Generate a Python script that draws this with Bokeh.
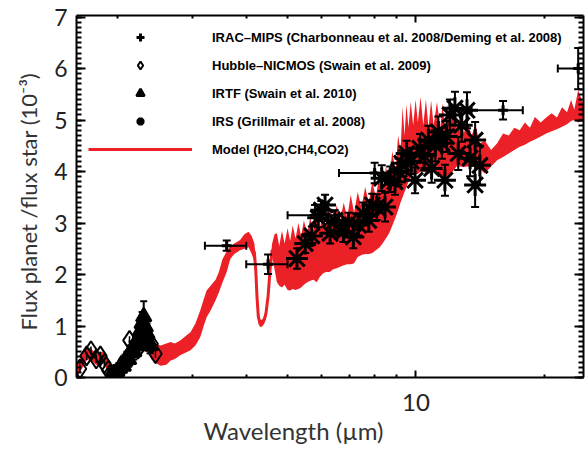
import numpy as np
from bokeh.plotting import figure
from bokeh.models import (Range1d, LogAxis, LinearAxis, FixedTicker, SingleIntervalTicker,
                          Whisker, TeeHead, ColumnDataSource, Legend, LegendItem,
                          CustomJSTickFormatter, Title)
from bokeh.embed import file_html
from bokeh.resources import INLINE

# ---------------- data ----------------
# IRAC / MIPS photometry
irac_wl = [3.6, 4.5, 5.8, 8.0, 16.0, 24.0]
irac_wl_lo = [3.2, 4.0, 5.0, 6.6, 13.5, 21.5]
irac_wl_hi = [4.0, 5.0, 6.6, 9.5, 17.8, 27.0]
irac_val = [2.56, 2.20, 3.15, 3.97, 5.19, 6.00]
irac_err = [0.10, 0.19, 0.20, 0.20, 0.18, 0.40]

# Hubble NICMOS
nic_wl = [1.63, 1.69, 1.73, 1.78, 1.82, 1.86, 1.90, 1.94, 2.13, 2.23, 2.35, 2.40, 2.45]
nic_val = [0.17, 0.42, 0.52, 0.36, 0.42, 0.27, 0.14, 0.05, 0.72, 0.55, 0.78, 0.65, 0.46]
nic_err = [0.08, 0.08, 0.08, 0.08, 0.08, 0.08, 0.08, 0.08, 0.08, 0.08, 0.08, 0.08, 0.08]

# IRTF
irtf_wl = [1.93, 1.96, 1.99, 2.02, 2.04, 2.06, 2.08, 2.10, 2.12, 2.14, 2.16,
           2.18, 2.20, 2.22, 2.24, 2.26, 2.28, 2.30, 2.32, 2.34, 2.36, 2.38]
irtf_val = [0.02, 0.08, 0.12, 0.18, 0.25, 0.22, 0.32, 0.38, 0.35, 0.48, 0.55,
            0.50, 0.62, 0.70, 0.78, 0.90, 1.05, 1.18, 0.98, 0.85, 0.70, 0.62]
irtf_err = [0.08, 0.08, 0.10, 0.10, 0.10, 0.12, 0.12, 0.12, 0.14, 0.14, 0.15,
            0.15, 0.16, 0.18, 0.18, 0.20, 0.22, 0.30, 0.22, 0.20, 0.18, 0.15]

# Spitzer IRS spectrum
irs_wl = [5.26, 5.50, 5.70, 5.90, 6.00, 6.12, 6.29, 6.45, 6.58, 6.76, 6.95,
          7.13, 7.33, 7.53, 7.75, 7.90, 8.09, 8.31, 8.46, 8.70, 8.93, 9.10,
          9.26, 9.51, 9.75, 9.95, 10.22, 10.45, 10.69, 10.88, 11.10, 11.28,
          11.50, 11.69, 11.80, 12.01, 12.34, 12.56, 12.80, 13.17, 13.39,
          13.76, 13.76, 14.12]
irs_val = [2.31, 2.60, 2.75, 3.10, 3.25, 3.35, 2.80, 3.05, 2.96, 2.83, 3.00,
           2.73, 2.96, 3.18, 3.05, 3.35, 3.31, 3.87, 3.31, 3.85, 3.80, 4.00,
           4.16, 4.35, 4.20, 3.83, 4.45, 4.30, 4.61, 4.06, 4.50, 4.77,
           4.55, 3.83, 4.68, 5.10, 5.23, 4.35, 4.90, 5.19, 4.26,
           4.61, 3.74, 4.12]
irs_err = [0.20, 0.18, 0.18, 0.18, 0.18, 0.20, 0.20, 0.20, 0.20, 0.20, 0.20,
           0.22, 0.20, 0.22, 0.22, 0.22, 0.25, 0.25, 0.28, 0.25, 0.25, 0.25,
           0.25, 0.25, 0.25, 0.25, 0.28, 0.28, 0.28, 0.28, 0.30, 0.30,
           0.30, 0.30, 0.30, 0.30, 0.32, 0.32, 0.32, 0.35, 0.35,
           0.35, 0.43, 0.38]

# Model (H2O, CH4, CO2): lower / upper envelope of the noisy spectrum
model_wl = [1.60, 1.63, 1.66, 1.69, 1.72, 1.75, 1.78, 1.81, 1.84, 1.88, 1.92,
            1.96, 2.00, 2.05, 2.10, 2.15, 2.20, 2.25, 2.30, 2.35, 2.40, 2.45,
            2.52, 2.60, 2.66, 2.72, 2.80, 2.88, 2.96, 3.04, 3.12, 3.18, 3.23,
            3.30, 3.39, 3.45, 3.52, 3.60, 3.67, 3.75, 3.87, 3.96, 4.05, 4.12,
            4.18, 4.21, 4.24, 4.27, 4.31, 4.36, 4.41, 4.45, 4.50, 4.55, 4.60,
            4.66, 4.72, 4.78, 4.85, 4.92, 5.00, 5.07, 5.14, 5.22, 5.30, 5.38,
            5.46, 5.56, 5.65, 5.75, 5.85, 5.95, 6.05, 6.15, 6.27, 6.40, 6.52,
            6.64, 6.77, 6.90, 7.03, 7.16, 7.30, 7.45, 7.60, 7.75, 7.90, 8.05,
            8.20, 8.35, 8.50, 8.65, 8.80, 8.95, 9.08, 9.20, 9.30, 9.40, 9.50,
            9.60, 9.72, 9.85, 9.98, 10.10, 10.25, 10.40, 10.55, 10.70, 10.85,
            11.00, 11.20, 11.40, 11.55, 11.70, 11.85, 12.00, 12.20, 12.45,
            12.70, 12.95, 13.20, 13.50, 13.80, 14.10, 14.50, 15.00, 15.50,
            16.00, 16.50, 17.00, 17.50, 18.00, 18.50, 19.00, 19.60, 20.20,
            20.80, 21.40, 22.00, 22.60, 23.10, 23.50, 24.00, 24.70]
model_lo = [0.02, 0.10, 0.22, 0.33, 0.36, 0.30, 0.24, 0.28, 0.30, 0.18, 0.04,
            -0.05, -0.05, 0.00, 0.10, 0.25, 0.40, 0.50, 0.55, 0.50, 0.35, 0.28,
            0.23, 0.25, 0.33, 0.36, 0.43, 0.48, 0.53, 0.62, 0.78, 1.00, 1.17,
            1.30, 1.50, 1.65, 1.85, 2.05, 2.30, 2.40, 2.47, 2.50, 2.53, 2.40,
            2.25, 1.90, 1.35, 1.05, 0.98, 0.99, 1.05, 1.15, 1.45, 1.95, 2.35,
            2.10, 1.85, 1.78, 1.75, 1.80, 1.70, 1.69, 1.72, 1.70, 1.72, 1.75,
            1.80, 1.85, 1.88, 1.90, 1.85, 1.95, 2.02, 2.05, 2.05, 2.10, 2.12,
            2.15, 2.18, 2.20, 2.20, 2.22, 2.34, 2.38, 2.40, 2.40, 2.42, 2.47,
            2.52, 2.60, 2.70, 2.80, 2.95, 3.10, 3.25, 3.40, 3.50, 3.60, 3.70,
            3.80, 3.90, 3.96, 3.95, 3.95, 4.00, 4.00, 3.98, 3.95, 3.98,
            4.00, 3.95, 3.90, 3.90, 3.90, 3.92, 3.95, 4.00, 4.10,
            4.10, 4.09, 4.10, 4.10, 4.08, 4.05, 3.96, 4.10, 4.22,
            4.28, 4.35, 4.42, 4.48, 4.52, 4.58, 4.62, 4.68, 4.74,
            4.78, 4.82, 4.87, 4.92, 4.98, 5.00, 4.95, 5.00]
model_hi = [0.26, 0.36, 0.48, 0.56, 0.58, 0.52, 0.46, 0.50, 0.50, 0.40, 0.26,
            0.15, 0.12, 0.20, 0.35, 0.50, 0.65, 0.80, 0.88, 0.80, 0.70, 0.65,
            0.62, 0.66, 0.69, 0.66, 0.72, 0.80, 0.88, 1.05, 1.30, 1.52, 1.69,
            1.78, 1.90, 2.05, 2.30, 2.45, 2.55, 2.60, 2.67, 2.78, 2.83, 2.75,
            2.60, 2.30, 1.75, 1.30, 1.12, 1.12, 1.20, 1.35, 1.70, 2.25, 2.60,
            2.78, 2.80, 2.55, 2.85, 2.60, 2.90, 2.65, 2.95, 2.70, 3.00, 2.75,
            3.05, 2.80, 3.10, 2.85, 3.15, 2.90, 3.20, 2.95, 3.30, 3.00, 3.35,
            3.05, 3.40, 3.10, 3.55, 3.20, 3.60, 3.30, 3.70, 3.40, 3.80, 3.50,
            3.90, 3.60, 4.10, 3.80, 4.40, 4.00, 4.70, 4.40, 5.26, 4.70, 5.30,
            4.85, 5.36, 4.90, 5.40, 4.95, 5.45, 4.90, 5.40, 4.85, 5.38,
            4.90, 5.35, 4.85, 5.33, 4.80, 5.30, 4.80, 5.15, 4.85, 5.10,
            4.75, 4.97, 4.70, 4.90, 4.55, 4.60, 4.42, 4.55, 4.74,
            4.70, 4.85, 4.80, 4.95, 4.85, 5.06, 4.95, 5.05, 5.13,
            5.05, 5.25, 5.15, 5.39, 5.20, 5.58, 5.30, 5.26]

legend_labels = ["IRAC\u2013MIPS (Charbonneau et al. 2008/Deming et al. 2008)",
                 "Hubble\u2013NICMOS (Swain et al. 2009)",
                 "IRTF (Swain et al. 2010)",
                 "IRS (Grillmair et al. 2008)",
                 "Model (H2O,CH4,CO2)"]
x_label = "Wavelength (\u00b5m)"
y_label = "Flux planet /flux star (10\u207b\u00b3)"

# ---------------- figure ----------------
FONT = "Lato"
RED = "#ec2027"
TXT = "#222222"

p = figure(width=586, height=449, x_axis_type="log",
           x_range=Range1d(1.6, 24.7), y_range=Range1d(0, 7.03),
           output_backend="svg", toolbar_location=None,
           min_border_left=76, min_border_right=3, min_border_top=15,
           min_border_bottom=72)
p.outline_line_color = None
p.xgrid.visible = False
p.ygrid.visible = False
p.background_fill_color = "white"
p.border_fill_color = "white"

# model
model_mid = [(a + b) / 2 for a, b in zip(model_lo, model_hi)]
p.varea(x=model_wl, y1=model_lo, y2=model_hi, fill_color=RED)
r_model = p.line(model_wl, model_mid, line_color=RED, line_width=3)


def vwhisk(x, y, e, size=8, width=2):
    src = ColumnDataSource(dict(x=x, lo=[a - b for a, b in zip(y, e)],
                                hi=[a + b for a, b in zip(y, e)]))
    w = Whisker(base="x", upper="hi", lower="lo", source=src, dimension="height",
                line_color="black", line_width=width,
                upper_head=TeeHead(size=size, line_width=width, line_color="black"),
                lower_head=TeeHead(size=size, line_width=width, line_color="black"),
                level="annotation")
    p.add_layout(w)


# IRAC
src_h = ColumnDataSource(dict(y=irac_val, lo=irac_wl_lo, hi=irac_wl_hi))
p.add_layout(Whisker(base="y", upper="hi", lower="lo", source=src_h, dimension="width",
                     line_color="black", line_width=2,
                     upper_head=TeeHead(size=8, line_width=2, line_color="black"),
                     lower_head=TeeHead(size=8, line_width=2, line_color="black"),
                     level="annotation"))
vwhisk(irac_wl, irac_val, irac_err)
r_irac = p.scatter(irac_wl, irac_val, marker="cross", size=10, line_color="black",
                   line_width=3)

# NICMOS
src_n = ColumnDataSource(dict(x=nic_wl, lo=[a - b for a, b in zip(nic_val, nic_err)],
                              hi=[a + b for a, b in zip(nic_val, nic_err)]))
p.segment(x0="x", y0="lo", x1="x", y1="hi", source=src_n, line_color="black", line_width=1.5)
r_nic = p.scatter(nic_wl, nic_val, marker="diamond", size=19, line_color="black",
                  line_width=2, fill_alpha=0)

# IRTF
vwhisk(irtf_wl, irtf_val, irtf_err, size=7)
r_irtf = p.scatter(irtf_wl, irtf_val, marker="triangle", size=15, line_color="black",
                   line_width=2.5, fill_color="black")

# IRS
vwhisk(irs_wl, irs_val, irs_err, size=8)
r_irs = p.scatter(irs_wl, irs_val, marker="asterisk", size=22, line_color="black",
                  line_width=3)

# ---------------- axes ----------------
x_minor = [2, 3, 4, 5, 6, 7, 8, 9, 20]


def style_x(ax):
    ax.ticker = FixedTicker(ticks=[10], minor_ticks=x_minor)
    ax.axis_line_width = 2
    ax.major_tick_in = 7
    ax.major_tick_out = 0
    ax.minor_tick_in = 3
    ax.minor_tick_out = 0
    ax.major_tick_line_width = 2
    ax.minor_tick_line_width = 2


def style_y(ax):
    ax.ticker = SingleIntervalTicker(interval=1, num_minor_ticks=10)
    ax.axis_line_width = 2
    ax.major_tick_in = 9
    ax.major_tick_out = 0
    ax.minor_tick_in = 5
    ax.minor_tick_out = 0
    ax.major_tick_line_width = 2
    ax.minor_tick_line_width = 2


xa = p.xaxis[0]
style_x(xa)
xa.major_label_overrides = {10: "10"}
xa.major_label_text_font = FONT
xa.major_label_text_font_size = "24px"
xa.major_label_text_color = TXT
xa.major_label_standoff = 16

ya = p.yaxis[0]
style_y(ya)
ya.major_label_text_font = FONT
ya.major_label_text_font_size = "23px"
ya.major_label_text_color = TXT
ya.major_label_standoff = 9

blank = CustomJSTickFormatter(code="return ''")
top = LogAxis()
style_x(top)
top.formatter = blank
top.major_label_text_font_size = "0px"
top.major_label_standoff = 0
p.add_layout(top, "above")

right = LinearAxis()
style_y(right)
right.formatter = CustomJSTickFormatter(code="return ''")
right.major_label_text_font_size = "0px"
right.major_label_standoff = 0
p.add_layout(right, "right")

# axis titles (placed as in the reference, which is not centred on the frame)
p.add_layout(Title(text=x_label, align="left", offset=127, text_font=FONT,
                   text_font_size="24px", text_font_style="normal",
                   text_color="#333333", standoff=0), "below")
p.add_layout(Title(text=y_label, align="left", offset=47, text_font=FONT,
                   text_font_size="22px", text_font_style="normal",
                   text_color="#333333", standoff=19), "left")

# ---------------- legend ----------------
legend = Legend(items=[LegendItem(label=legend_labels[0], renderers=[r_irac]),
                       LegendItem(label=legend_labels[1], renderers=[r_nic]),
                       LegendItem(label=legend_labels[2], renderers=[r_irtf]),
                       LegendItem(label=legend_labels[3], renderers=[r_irs]),
                       LegendItem(label=legend_labels[4], renderers=[r_model])],
                location="top_left", glyph_width=104, glyph_height=20,
                label_standoff=20, spacing=8, padding=12, margin=0,
                border_line_alpha=0, background_fill_alpha=0,
                label_text_font="Liberation Sans", label_text_font_size="13px",
                label_text_font_style="bold", label_text_color="black")
p.add_layout(legend)

open("out.html", "w").write(file_html(p, INLINE))
